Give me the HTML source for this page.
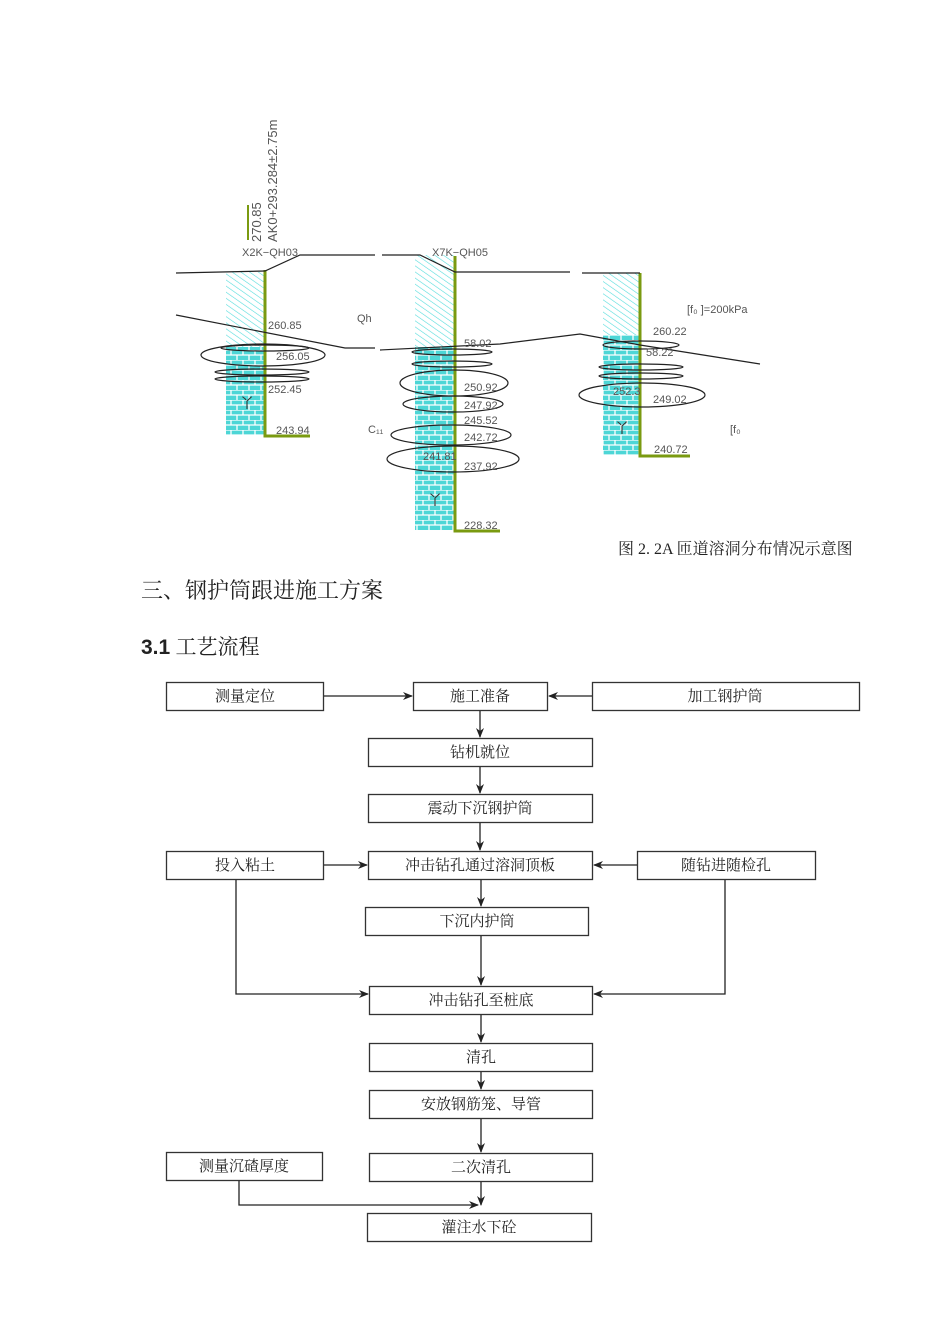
<!DOCTYPE html>
<html><head><meta charset="utf-8"><style>
html,body{margin:0;padding:0;background:#fff;width:950px;height:1344px;overflow:hidden}
svg{display:block}
.t{font-family:"Liberation Serif","Noto Serif CJK SC",serif;font-size:15px;fill:#222}
.g{font-family:"Liberation Sans",sans-serif;font-size:11px;fill:#555}
</style></head><body>
<svg width="950" height="1344" viewBox="0 0 950 1344" xmlns="http://www.w3.org/2000/svg">
<defs>
<pattern id="hatch" width="5" height="5" patternUnits="userSpaceOnUse" patternTransform="rotate(-55)">
<rect width="5" height="5" fill="#fff"/><line x1="0" y1="0" x2="0" y2="5" stroke="#5dd" stroke-width="1.2"/></pattern>
<pattern id="brick" width="12" height="10" patternUnits="userSpaceOnUse">
<rect width="12" height="10" fill="#4dd6d6"/><path d="M0 0H12M0 5H12M3 0V5M9 5V10" stroke="#fff" stroke-width="1.3"/></pattern>
<marker id="ar" markerWidth="10" markerHeight="8" refX="9" refY="4" orient="auto" markerUnits="userSpaceOnUse">
<path d="M0 0L10 4L0 8L3 4Z" fill="#222"/></marker>
</defs>

<g>
<rect x="226" y="272" width="39" height="75" fill="url(#hatch)"/>
<rect x="226" y="347" width="39" height="88" fill="url(#brick)"/>
<rect x="415" y="255" width="40" height="92" fill="url(#hatch)"/>
<rect x="415" y="347" width="40" height="183" fill="url(#brick)"/>
<rect x="603" y="273" width="37" height="62" fill="url(#hatch)"/>
<rect x="603" y="335" width="37" height="120" fill="url(#brick)"/>
<g stroke="#7a9a10" stroke-width="3" fill="none">
<path d="M265 270V436H310"/><path d="M455 256V531H500"/><path d="M640 273V456H690"/>
<path d="M248 205V240" stroke-width="2"/>
</g>
<g stroke="#222" stroke-width="1.2" fill="none">
<path d="M176 273L265 271L300 255H375"/>
<path d="M382 255H420L455 272H570"/>
<path d="M582 273H640"/>
<path d="M176 315L345 348H375"/>
<path d="M380 350L500 344L580 334L640 345L760 364"/>
<ellipse cx="265" cy="348" rx="44" ry="3"/>
<ellipse cx="263" cy="355" rx="62" ry="11"/>
<ellipse cx="262" cy="372" rx="47" ry="3"/>
<ellipse cx="262" cy="379" rx="47" ry="3"/>
<ellipse cx="452" cy="352" rx="40" ry="3"/>
<ellipse cx="452" cy="364" rx="40" ry="3"/>
<ellipse cx="454" cy="383" rx="54" ry="13"/>
<ellipse cx="453" cy="404" rx="50" ry="8"/>
<ellipse cx="451" cy="435" rx="60" ry="10"/>
<ellipse cx="453" cy="459" rx="66" ry="13"/>
<ellipse cx="641" cy="345" rx="38" ry="4"/>
<ellipse cx="641" cy="367" rx="42" ry="3"/>
<ellipse cx="641" cy="376" rx="42" ry="3"/>
<ellipse cx="642" cy="395" rx="63" ry="12"/>
</g>
<g class="g">
<text x="268" y="329">260.85</text><text x="276" y="360">256.05</text><text x="268" y="393">252.45</text><text x="276" y="434">243.94</text>
<text x="464" y="347">58.02</text><text x="464" y="391">250.92</text><text x="464" y="409">247.92</text>
<text x="464" y="424">245.52</text><text x="464" y="441">242.72</text><text x="423" y="460">241.81</text><text x="464" y="470">237.92</text>
<text x="464" y="529">228.32</text>
<text x="653" y="335">260.22</text><text x="646" y="356">58.22</text><text x="653" y="403">249.02</text><text x="613" y="395">252.3</text><text x="654" y="453">240.72</text>
<text x="242" y="256">X2K−QH03</text><text x="432" y="256">X7K−QH05</text>
<text x="357" y="322">Qh</text><text x="368" y="433">C₁₁</text>
<text x="687" y="313">[f₀   ]=200kPa</text><text x="730" y="433">[f₀</text>
<text transform="translate(261,242) rotate(-90)" font-size="13">270.85</text>
<text transform="translate(277,242) rotate(-90)" font-size="13">AK0+293.284±2.75m</text>
</g>
<text x="240" y="408" font-size="14" fill="#333">丫</text>
<text x="428" y="505" font-size="14" fill="#333">丫</text>
<text x="615" y="433" font-size="14" fill="#333">丫</text>
</g>

<text class="t" x="618" y="554" style="font-size:16px">图 2. 2A 匝道溶洞分布情况示意图</text>
<text x="141" y="598" font-family="Liberation Serif,'Noto Serif CJK SC',serif" font-size="22" fill="#222">三、钢护筒跟进施工方案</text>
<text x="141" y="654" font-family="Liberation Sans,'Noto Serif CJK SC',sans-serif" font-size="21" fill="#222"><tspan font-weight="bold">3.1</tspan><tspan font-family="Liberation Serif,'Noto Serif CJK SC',serif"> 工艺流程</tspan></text>

<g fill="#fff" stroke="#333" stroke-width="1.3">
<rect x="166.5" y="682.5" width="157" height="28"/>
<rect x="413.5" y="682.5" width="134" height="28"/>
<rect x="592.5" y="682.5" width="267" height="28"/>
<rect x="368.5" y="738.5" width="224" height="28"/>
<rect x="368.5" y="794.5" width="224" height="28"/>
<rect x="166.5" y="851.5" width="157" height="28"/>
<rect x="368.5" y="851.5" width="224" height="28"/>
<rect x="637.5" y="851.5" width="178" height="28"/>
<rect x="365.5" y="907.5" width="223" height="28"/>
<rect x="369.5" y="986.5" width="223" height="28"/>
<rect x="369.5" y="1043.5" width="223" height="28"/>
<rect x="369.5" y="1090.5" width="223" height="28"/>
<rect x="166.5" y="1152.5" width="156" height="28"/>
<rect x="369.5" y="1153.5" width="223" height="28"/>
<rect x="367.5" y="1213.5" width="224" height="28"/>
</g>
<g class="t" text-anchor="middle">
<text x="245" y="701">测量定位</text><text x="480" y="701">施工准备</text><text x="725" y="701">加工钢护筒</text>
<text x="480" y="757">钻机就位</text><text x="480" y="813">震动下沉钢护筒</text>
<text x="245" y="870">投入粘土</text><text x="480" y="870">冲击钻孔通过溶洞顶板</text><text x="726" y="870">随钻进随检孔</text>
<text x="477" y="926">下沉内护筒</text><text x="481" y="1005">冲击钻孔至桩底</text><text x="481" y="1062">清孔</text>
<text x="481" y="1109">安放钢筋笼、导管</text><text x="244" y="1171">测量沉碴厚度</text><text x="481" y="1172">二次清孔</text>
<text x="479" y="1232">灌注水下砼</text>
</g>
<g stroke="#222" stroke-width="1.3" fill="none" marker-end="url(#ar)">
<path d="M324 696H412"/><path d="M592 696H549"/>
<path d="M480 711V737"/><path d="M480 767V793"/><path d="M480 823V850"/>
<path d="M324 865H367"/><path d="M637 865H594"/>
<path d="M481 880V906"/><path d="M481 936V985"/>
<path d="M236 880V994H368"/><path d="M725 880V994H594"/>
<path d="M481 1015V1042"/><path d="M481 1072V1089"/><path d="M481 1119V1152"/><path d="M481 1182V1205"/>
<path d="M239 1181V1205H478"/>
</g>
</svg>
</body></html>
